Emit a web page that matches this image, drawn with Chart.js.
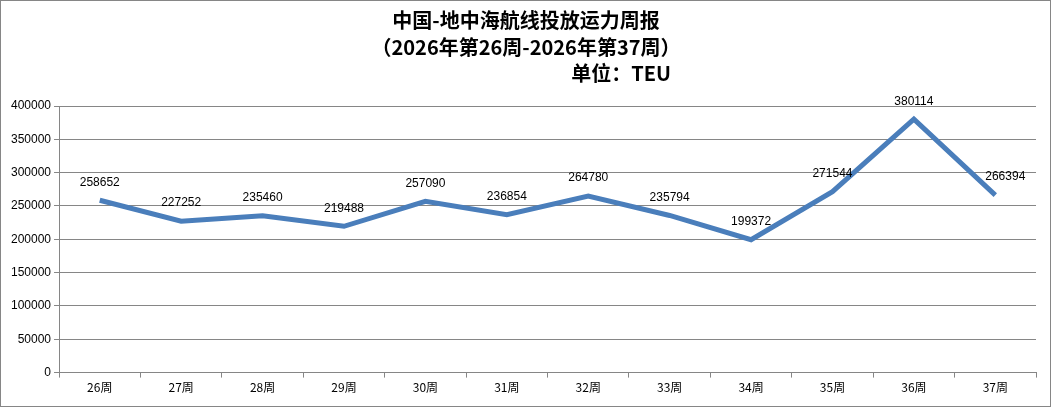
<!DOCTYPE html>
<html>
<head>
<meta charset="utf-8">
<script src="https://cdn.jsdelivr.net/npm/chart.js@4"></script>
<style>
  html, body { margin: 0; padding: 0; background: #fff; }
  #wrap { width: 1051px; height: 407px; position: relative; }
</style>
</head>
<body>
<div id="wrap"><canvas id="capacityChart"></canvas></div>
<script>
const weeks = ['26周', '27周', '28周', '29周', '30周', '31周', '32周', '33周', '34周', '35周', '36周', '37周'];
const capacity = [258652, 227252, 235460, 219488, 257090, 236854, 264780, 235794, 199372, 271544, 380114, 266394];
const titleLines = ['中国-地中海航线投放运力周报', '（2026年第26周-2026年第37周）', '单位：TEU'];
const yTicks = [0, 50000, 100000, 150000, 200000, 250000, 300000, 350000, 400000];

const gridGray = '#868686';
const cjkFont = '"Noto Sans CJK SC", "DejaVu Sans", sans-serif';
const numFont = '"Liberation Sans", Arial, sans-serif';

// 标题 + 外框
const frameAndTitle = {
    id: 'frameAndTitle',
    afterDraw(chart) {
        const ctx = chart.ctx;
        ctx.save();
        ctx.strokeStyle = gridGray;
        ctx.lineWidth = 1;
        ctx.strokeRect(0.5, 0.5, chart.width - 1, chart.height - 1);

        ctx.fillStyle = '#000';
        ctx.font = 'bold 20px ' + cjkFont;
        ctx.textBaseline = 'middle';
        ctx.textAlign = 'center';
        ctx.fillText(titleLines[0], 526, 20);
        ctx.fillText(titleLines[1], 526, 47);
        ctx.textAlign = 'right';
        ctx.fillText(titleLines[2], 671, 73);
        ctx.restore();
    }
};

// 数据标签
const valueLabels = {
    id: 'valueLabels',
    afterDatasetsDraw(chart) {
        const ctx = chart.ctx;
        const meta = chart.getDatasetMeta(0);
        ctx.save();
        ctx.fillStyle = '#000';
        ctx.font = '12px ' + numFont;
        ctx.textAlign = 'center';
        ctx.textBaseline = 'middle';
        meta.data.forEach((pt, i) => {
            const dx = i === meta.data.length - 1 ? 10 : 0;
            ctx.fillText(String(capacity[i]), pt.x + dx, pt.y - 18);
        });
        ctx.restore();
    }
};

const ctx = document.getElementById('capacityChart').getContext('2d');
new Chart(ctx, {
    type: 'line',
    data: {
        labels: weeks,
        datasets: [{
            label: '投放运力',
            data: capacity,
            borderColor: '#4a7ebb',
            borderWidth: 5,
            pointRadius: 0,
            tension: 0,
            fill: false
        }]
    },
    options: {
        responsive: true,
        maintainAspectRatio: false,
        animation: false,
        layout: {
            padding: { top: 106, right: 15, bottom: 9, left: 8 }
        },
        scales: {
            x: {
                offset: true,
                grid: {
                    offset: true,
                    drawOnChartArea: false,
                    drawTicks: true,
                    tickLength: 5,
                    color: gridGray
                },
                border: { color: gridGray },
                ticks: {
                    color: '#000',
                    font: { size: 12, family: cjkFont },
                    padding: 3,
                    maxRotation: 0
                }
            },
            y: {
                min: 0,
                max: 400000,
                afterBuildTicks(axis) {
                    axis.ticks = yTicks.map(v => ({ value: v }));
                },
                grid: {
                    color: gridGray,
                    tickLength: 5
                },
                border: { color: gridGray },
                ticks: {
                    color: '#000',
                    font: { size: 12, family: numFont },
                    padding: 3,
                    callback: v => String(v) // 不要千分位逗号
                }
            }
        },
        plugins: {
            legend: { display: false },
            title: { display: false },
            tooltip: { enabled: false }
        }
    },
    plugins: [frameAndTitle, valueLabels]
});
</script>
</body>
</html>
